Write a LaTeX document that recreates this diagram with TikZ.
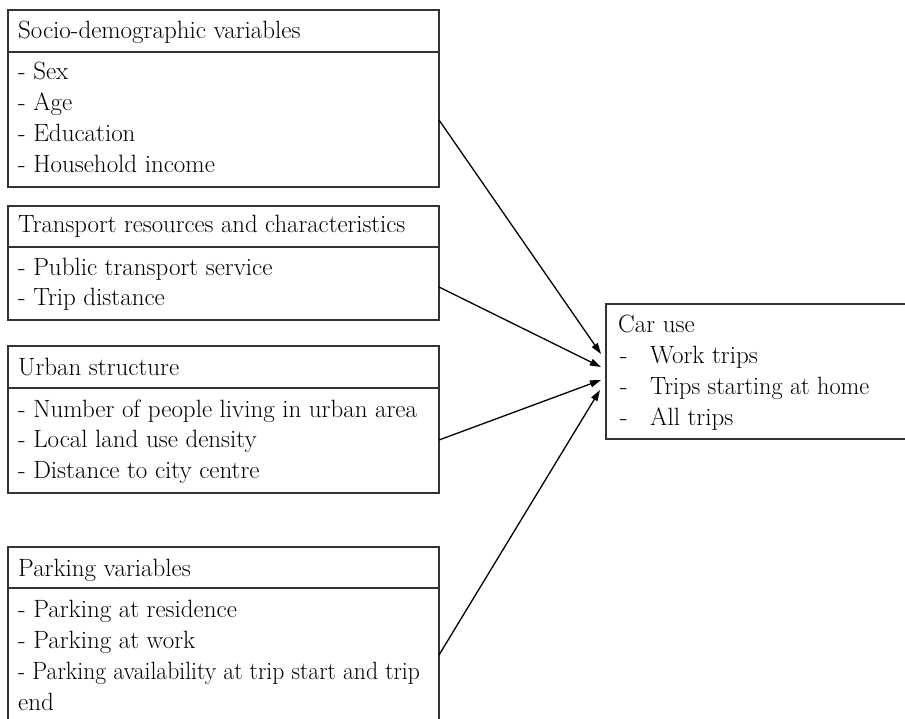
\documentclass[tikz,border=0pt]{standalone}
\usetikzlibrary{arrows.meta}
\begin{document}
\begin{tikzpicture}[x=1pt,y=-1pt,
  boxst/.style={draw=black!80, line width=1.3pt, anchor=north west, inner sep=0pt, outer sep=0pt},
  txt/.style={anchor=base west, inner sep=0pt, text=black, font=\fontsize{25}{31}\selectfont},
  conn/.style={draw=black, line width=1.3pt, -{Triangle[length=11pt,width=7pt]}}]
\useasboundingbox (0,0) rectangle (905,719);
% box 1
\node[boxst, minimum width=431pt, minimum height=42pt] (h1) at (8,10) {};
\node[boxst, minimum width=431pt, minimum height=135pt] (b1) at (8,52) {};
\node[txt] (t1) at (18,39) {Socio-demographic variables};
\node[txt] (t1a) at (18,80) {- Sex};
\node[txt] (t1b) at (18,111) {- Age};
\node[txt] (t1c) at (18,142) {- Education};
\node[txt] (t1d) at (18,173) {- Household income};
% box 2
\node[boxst, minimum width=431pt, minimum height=41pt] (h2) at (8,206) {};
\node[boxst, minimum width=431pt, minimum height=73pt] (b2) at (8,247) {};
\node[txt] (t2) at (18,233) {\scalebox{0.99}[1]{Transport resources and characteristics}};
\node[txt] (t2a) at (18,276) {- Public transport service};
\node[txt] (t2b) at (18,306) {- Trip distance};
% box 3
\node[boxst, minimum width=431pt, minimum height=42pt] (h3) at (8,346) {};
\node[boxst, minimum width=431pt, minimum height=105pt] (b3) at (8,388) {};
\node[txt] (t3) at (18,375) {Urban structure};
\node[txt] (t3a) at (18,417) {- Number of people living in urban area};
\node[txt] (t3b) at (18,447) {- Local land use density};
\node[txt] (t3c) at (18,478) {- Distance to city centre};
% box 4
\node[boxst, minimum width=431pt, minimum height=41pt] (h4) at (8,547) {};
\node[boxst, minimum width=431pt, minimum height=150pt] (b4) at (8,588) {};
\node[txt] (t4) at (18,576) {Parking variables};
\node[txt] (t4a) at (18,617) {- Parking at residence};
\node[txt] (t4b) at (18,648) {- Parking at work};
\node[txt] (t4c) at (18,679) {\scalebox{0.945}[1]{- Parking availability at trip start and trip}};
\node[txt] (t4d) at (18,710) {end};
% car use box
\node[boxst, minimum width=310pt, minimum height=135pt] (car) at (606,304) {};
\node[txt] (c0) at (618,333) {Car use};
\node[txt] (c1d) at (620,363) {-};
\node[txt] (c1) at (650,363) {Work trips};
\node[txt] (c2d) at (620,394) {-};
\node[txt] (c2) at (650,394) {\scalebox{0.97}[1]{Trips starting at home}};
\node[txt] (c3d) at (620,425) {-};
\node[txt] (c3) at (650,425) {All trips};
% connector points
\coordinate (s1) at (b1.east |- 0,120);
\coordinate (s2) at (b2.east |- 0,287);
\coordinate (s3) at (b3.east |- 0,440);
\coordinate (s4) at (b4.east |- 0,655);
\coordinate (e1) at (601,354);
\coordinate (e2) at (601,367);
\coordinate (e3) at (601,380);
\coordinate (e4) at (600,390);
\draw[conn] (s1) -- (e1);
\draw[conn] (s2) -- (e2);
\draw[conn] (s3) -- (e3);
\draw[conn] (s4) -- (e4);
\end{tikzpicture}
\end{document}
